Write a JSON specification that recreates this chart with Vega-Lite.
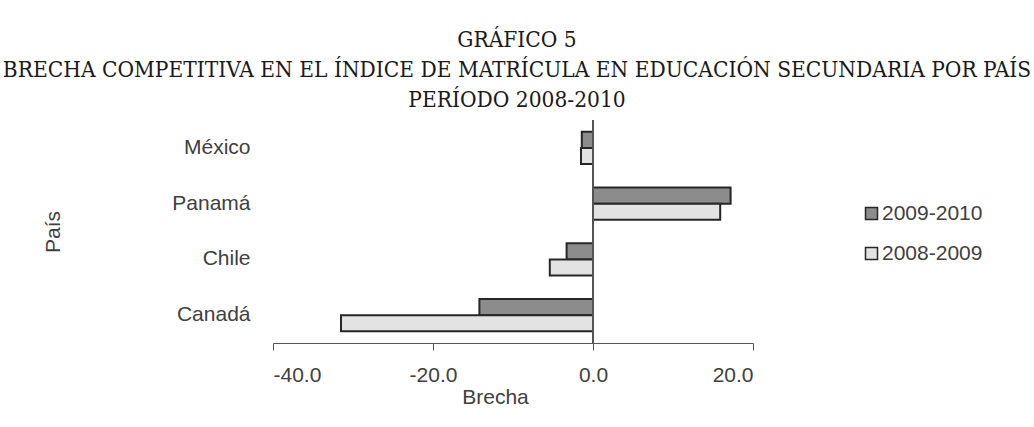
{
  "$schema": "https://vega.github.io/schema/vega-lite/v6.json",
  "autosize": "none",
  "width": 480,
  "height": 223,
  "padding": {"left": 273, "top": 120, "right": 281, "bottom": 84},
  "background": "white",
  "title": {
    "text": ["GRÁFICO 5", "BRECHA COMPETITIVA EN EL ÍNDICE DE MATRÍCULA EN EDUCACIÓN SECUNDARIA POR PAÍS", "PERÍODO 2008-2010"],
    "font": "DejaVu Serif Condensed",
    "fontSize": 22.5,
    "fontWeight": "normal",
    "color": "#1a1a1a",
    "lineHeight": 30,
    "anchor": "middle",
    "frame": "group",
    "dx": 4,
    "offset": 8
  },
  "data": {
    "values": [
      {"pais": "México", "periodo": "2009-2010", "brecha": -1.4},
      {"pais": "México", "periodo": "2008-2009", "brecha": -1.5},
      {"pais": "Panamá", "periodo": "2009-2010", "brecha": 17.2},
      {"pais": "Panamá", "periodo": "2008-2009", "brecha": 15.9},
      {"pais": "Chile", "periodo": "2009-2010", "brecha": -3.3},
      {"pais": "Chile", "periodo": "2008-2009", "brecha": -5.4},
      {"pais": "Canadá", "periodo": "2009-2010", "brecha": -14.2},
      {"pais": "Canadá", "periodo": "2008-2009", "brecha": -31.5}
    ]
  },
  "layer": [
    {
      "mark": {"type": "bar", "stroke": "#262626", "strokeWidth": 2},
      "encoding": {
        "y": {
          "field": "pais",
          "type": "nominal",
          "sort": ["México", "Panamá", "Chile", "Canadá"],
          "scale": {"paddingInner": 0.42, "paddingOuter": 0.21},
          "axis": {
            "title": "País",
            "titleFont": "Liberation Sans",
            "titleFontSize": 21,
            "titleFontWeight": "normal",
            "titleColor": "#404040",
            "titleX": -210,
            "titleAngle": -90,
            "domain": false,
            "ticks": false,
            "labelPadding": 23,
            "labelFont": "Liberation Sans",
            "labelFontSize": 21,
            "labelColor": "#404040"
          }
        },
        "yOffset": {
          "field": "periodo",
          "type": "nominal",
          "sort": ["2009-2010", "2008-2009"],
          "scale": {"paddingInner": 0, "paddingOuter": 0}
        },
        "x": {
          "field": "brecha",
          "type": "quantitative",
          "scale": {"domain": [-40, 20], "nice": false},
          "axis": {
            "title": "Brecha",
            "titleFont": "Liberation Sans",
            "titleFontSize": 21,
            "titleFontWeight": "normal",
            "titleColor": "#404040",
            "titlePadding": 1,
            "titleX": 222,
            "values": [-40, -20, 0, 20],
            "labelExpr": "replace(format(datum.value, '.1f'), '\u2212', '-')",
            "grid": false,
            "domainColor": "#555555",
            "tickColor": "#555555",
            "tickSize": 7,
            "labelPadding": 14,
            "labelFont": "Liberation Sans",
            "labelFontSize": 21,
            "labelColor": "#404040"
          }
        },
        "color": {
          "field": "periodo",
          "type": "nominal",
          "sort": ["2009-2010", "2008-2009"],
          "scale": {"domain": ["2009-2010", "2008-2009"], "range": ["#8c8c8c", "#e3e3e3"]},
          "legend": {
            "title": null,
            "orient": "none",
            "legendX": 588,
            "legendY": 83,
            "symbolType": "square",
            "symbolSize": 144,
            "symbolStrokeColor": "#262626",
            "symbolStrokeWidth": 1.5,
            "symbolOpacity": 1,
            "labelFont": "Liberation Sans",
            "labelFontSize": 21,
            "labelColor": "#404040",
            "labelOffset": 0,
            "rowPadding": 18
          }
        }
      }
    },
    {
      "mark": {"type": "rule", "color": "#555555", "strokeWidth": 1.5},
      "encoding": {"x": {"datum": 0, "type": "quantitative"}}
    }
  ],
  "config": {"view": {"stroke": null}}
}
